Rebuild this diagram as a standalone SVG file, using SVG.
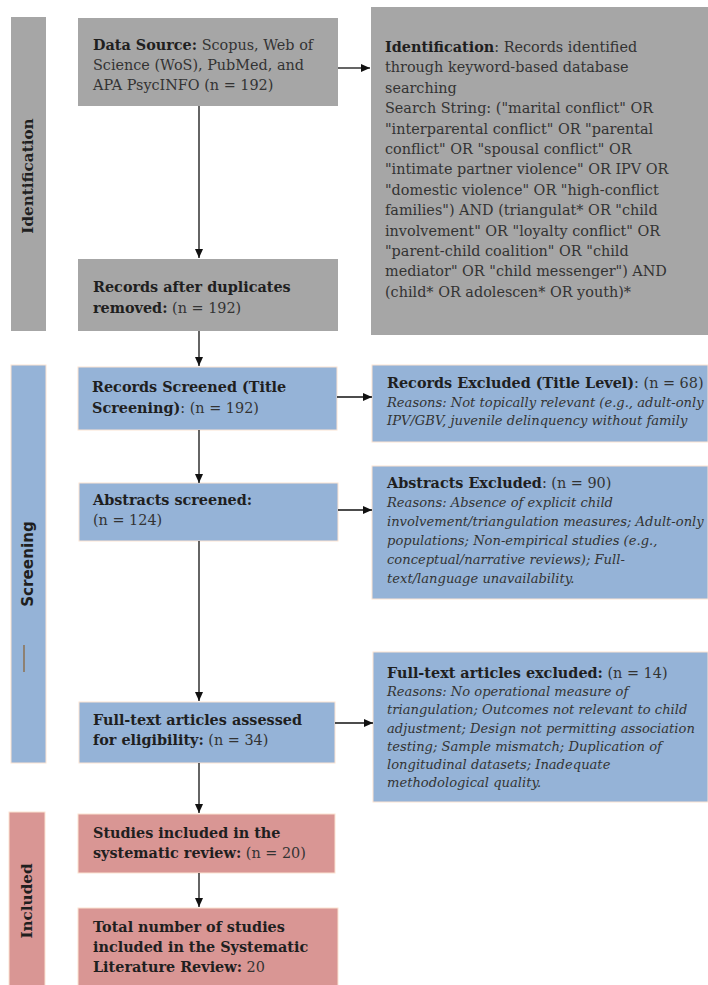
<svg xmlns="http://www.w3.org/2000/svg" width="708" height="985" viewBox="0 0 708 985">
<style>
.grey{fill:#a6a6a6}
.blue{fill:#95b3d7;stroke:#fbe3d2;stroke-width:1}
.pink{fill:#d99694;stroke:#fbe3d2;stroke-width:1}
.t{font-family:"DejaVu Serif","Liberation Serif",serif;font-size:14.4px;fill:#333}
.b{font-weight:bold;fill:#1f1f1f}
.i{font-family:"DejaVu Serif","Liberation Serif",serif;font-size:13.1px;font-style:italic;fill:#333}
.side{font-family:"DejaVu Serif","Liberation Serif",serif;font-size:15.2px;font-weight:bold;fill:#1f1f1f}
.sides{font-family:"DejaVu Sans","Liberation Sans",sans-serif;font-size:15.2px;font-weight:bold;fill:#1f1f1f}
.c{stroke:#111;stroke-width:1.3;fill:none;marker-end:url(#ah)}
</style>
<defs>
<marker id="ah" markerUnits="userSpaceOnUse" markerWidth="10" markerHeight="10" refX="9" refY="5" orient="auto">
<path d="M0,1 L9,5 L0,9 Z" fill="#111"/>
</marker>
</defs>

<g id="stage-identification">
<rect class="grey" x="11" y="17" width="35" height="314"/>
<text class="side" transform="translate(33,176) rotate(-90)" text-anchor="middle">Identification</text>
</g>
<g id="stage-screening">
<rect class="blue" x="11" y="365" width="35" height="398"/>
<text class="sides" transform="translate(33,564) rotate(-90)" text-anchor="middle">Screening</text>
<line x1="24" y1="645" x2="24" y2="672" stroke="#8a6030" stroke-width="1.2"/>
</g>
<g id="stage-included">
<rect class="pink" x="9" y="812" width="36" height="180"/>
<text class="side" transform="translate(32,901) rotate(-90)" text-anchor="middle">Included</text>
</g>

<g id="data-source">
<rect class="grey" x="78" y="18" width="260" height="88"/>
<text class="t" x="93" y="50"><tspan class="b">Data Source:</tspan> Scopus, Web of</text>
<text class="t" x="93" y="70">Science (WoS), PubMed, and</text>
<text class="t" x="93" y="90">APA PsycINFO (n = 192)</text>
</g>

<g id="identification">
<rect class="grey" x="371" y="7" width="337" height="328"/>
<text class="t" x="385" y="52"><tspan class="b">Identification</tspan>: Records identified</text>
<text class="t" x="385" y="72.4">through keyword-based database</text>
<text class="t" x="385" y="92.8">searching</text>
<text class="t" x="385" y="113.2">Search String: ("marital conflict" OR</text>
<text class="t" x="385" y="133.6">"interparental conflict" OR "parental</text>
<text class="t" x="385" y="154">conflict" OR "spousal conflict" OR</text>
<text class="t" x="385" y="174.4">"intimate partner violence" OR IPV OR</text>
<text class="t" x="385" y="194.8">"domestic violence" OR "high-conflict</text>
<text class="t" x="385" y="215.2">families") AND (triangulat* OR "child</text>
<text class="t" x="385" y="235.6">involvement" OR "loyalty conflict" OR</text>
<text class="t" x="385" y="256">"parent-child coalition" OR "child</text>
<text class="t" x="385" y="276.4">mediator" OR "child messenger") AND</text>
<text class="t" x="385" y="296.8">(child* OR adolescen* OR youth)*</text>
</g>

<g id="duplicates-removed">
<rect class="grey" x="78" y="259" width="260" height="72"/>
<text class="t" x="93" y="292"><tspan class="b">Records after duplicates</tspan></text>
<text class="t" x="93" y="313"><tspan class="b">removed:</tspan> (n = 192)</text>
</g>

<g id="records-screened">
<rect class="blue" x="78" y="367" width="259" height="63"/>
<text class="t" x="92" y="392"><tspan class="b">Records Screened (Title</tspan></text>
<text class="t" x="92" y="413"><tspan class="b">Screening)</tspan>: (n = 192)</text>
</g>

<g id="records-excluded">
<rect class="blue" x="372" y="365" width="336" height="77"/>
<text class="t" x="387" y="388"><tspan class="b">Records Excluded (Title Level)</tspan>: (n = 68)</text>
<text class="i" x="387" y="406.5">Reasons: Not topically relevant (e.g., adult-only</text>
<text class="i" x="387" y="425">IPV/GBV, juvenile delinquency without family</text>
</g>

<g id="abstracts-screened">
<rect class="blue" x="79" y="483" width="259" height="58"/>
<text class="t" x="93" y="505"><tspan class="b">Abstracts screened:</tspan></text>
<text class="t" x="93" y="525">(n = 124)</text>
</g>

<g id="abstracts-excluded">
<rect class="blue" x="372" y="466" width="336" height="133"/>
<text class="t" x="387" y="488"><tspan class="b">Abstracts Excluded</tspan>: (n = 90)</text>
<text class="i" x="387" y="507">Reasons: Absence of explicit child</text>
<text class="i" x="387" y="526">involvement/triangulation measures; Adult-only</text>
<text class="i" x="387" y="545">populations; Non-empirical studies (e.g.,</text>
<text class="i" x="387" y="564">conceptual/narrative reviews); Full-</text>
<text class="i" x="387" y="583">text/language unavailability.</text>
</g>

<g id="fulltext-assessed">
<rect class="blue" x="79" y="702" width="256" height="61"/>
<text class="t" x="93" y="725"><tspan class="b">Full-text articles assessed</tspan></text>
<text class="t" x="93" y="745"><tspan class="b">for eligibility:</tspan> (n = 34)</text>
</g>

<g id="fulltext-excluded">
<rect class="blue" x="373" y="652" width="335" height="150"/>
<text class="t" x="387" y="678"><tspan class="b">Full-text articles excluded:</tspan> (n = 14)</text>
<text class="i" x="387" y="696.2">Reasons: No operational measure of</text>
<text class="i" x="387" y="714.4">triangulation; Outcomes not relevant to child</text>
<text class="i" x="387" y="732.6">adjustment; Design not permitting association</text>
<text class="i" x="387" y="750.8">testing; Sample mismatch; Duplication of</text>
<text class="i" x="387" y="769">longitudinal datasets; Inadequate</text>
<text class="i" x="387" y="787.2">methodological quality.</text>
</g>

<g id="studies-included">
<rect class="pink" x="78" y="814" width="257" height="59"/>
<text class="t" x="93" y="838"><tspan class="b">Studies included in the</tspan></text>
<text class="t" x="93" y="858"><tspan class="b">systematic review:</tspan> (n = 20)</text>
</g>

<g id="total-included">
<rect class="pink" x="78" y="908" width="260" height="84"/>
<text class="t" x="93" y="932"><tspan class="b">Total number of studies</tspan></text>
<text class="t" x="93" y="952"><tspan class="b">included in the Systematic</tspan></text>
<text class="t" x="93" y="972"><tspan class="b">Literature Review:</tspan> 20</text>
</g>

<g id="connectors">
<line class="c" x1="199" y1="106" x2="199" y2="258"/>
<line class="c" x1="199" y1="331" x2="199" y2="366"/>
<line class="c" x1="199" y1="430" x2="199" y2="483"/>
<line class="c" x1="199" y1="541" x2="199" y2="701"/>
<line class="c" x1="199" y1="763" x2="199" y2="813"/>
<line class="c" x1="199" y1="873" x2="199" y2="907"/>
<line class="c" x1="338" y1="68" x2="370" y2="68"/>
<line class="c" x1="337" y1="397" x2="372" y2="397"/>
<line class="c" x1="338" y1="510" x2="372" y2="510"/>
<line class="c" x1="335" y1="723" x2="373" y2="723"/>
</g>
</svg>
